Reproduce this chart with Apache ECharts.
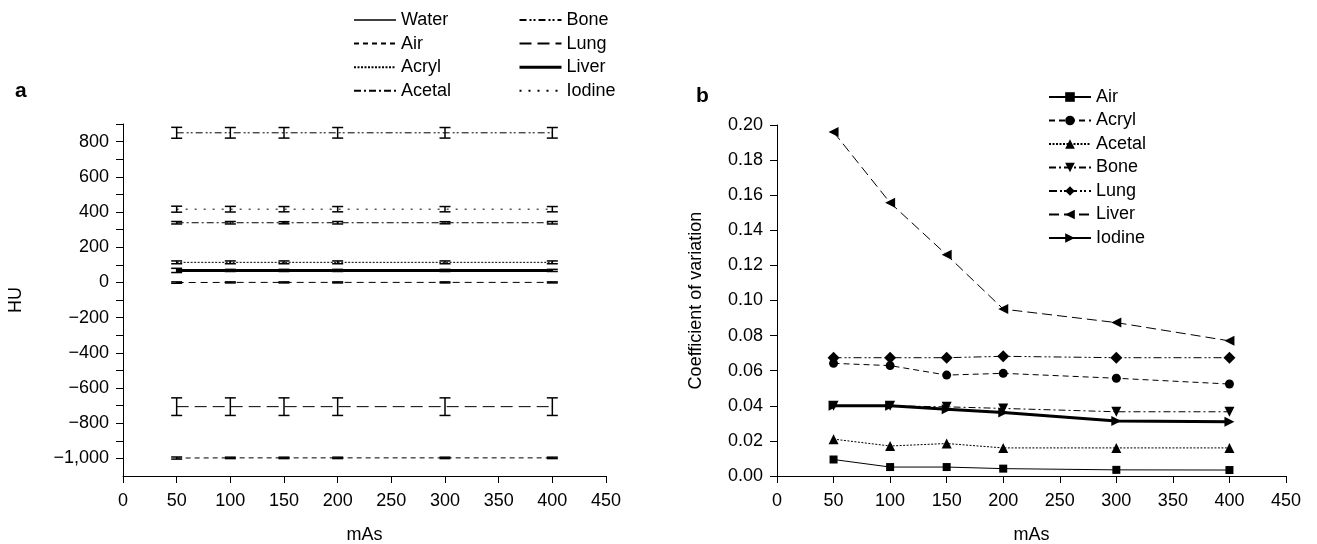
<!DOCTYPE html>
<html>
<head>
<meta charset="utf-8">
<script src="https://cdn.jsdelivr.net/npm/echarts@6/dist/echarts.min.js"></script>
<style>
  html, body { margin: 0; padding: 0; background: #fff; }
  #chart { width: 1317px; height: 544px; }
</style>
</head>
<body>
<div id="chart"></div>
<script>
// x values (mAs)
const mAs = [50, 100, 150, 200, 300, 400];

// panel a: HU mean and SD
const waterHU = [-1, 0, 0, 0, 0, 0];
const waterSD = [4, 3, 3, 3, 3, 3];
const airHU = [-998, -997, -997, -997, -997, -997];
const airSD = [6, 4, 4, 4, 4, 4];
const acrylHU = [114, 114, 114, 114, 114, 114];
const acrylSD = [8, 8, 8, 8, 8, 8];
const acetalHU = [339, 339, 339, 339, 339, 339];
const acetalSD = [7, 7, 6, 7, 6, 7];
const boneHU = [850, 850, 850, 850, 850, 850];
const boneSD = [31, 30, 30, 30, 30, 30];
const lungHU = [-706, -706, -706, -706, -706, -706];
const lungSD = [50, 50, 50, 50, 50, 50];
const liverHU = [68, 68, 68, 68, 68, 68];
const liverSD = [12, 6, 6, 6, 6, 6];
const iodineHU = [416, 416, 416, 416, 416, 416];
const iodineSD = [17, 16, 15, 15, 15, 15];

// panel b: coefficient of variation
const airCV = [0.0094, 0.0051, 0.0051, 0.0042, 0.0035, 0.0034];
const acrylCV = [0.0642, 0.0629, 0.0575, 0.0585, 0.0557, 0.0524];
const acetalCV = [0.0210, 0.0171, 0.0185, 0.0160, 0.0160, 0.0160];
const boneCV = [0.0400, 0.0400, 0.0394, 0.0385, 0.0366, 0.0366];
const lungCV = [0.0674, 0.0674, 0.0674, 0.0682, 0.0674, 0.0674];
const liverCV = [0.1960, 0.1557, 0.1260, 0.0951, 0.0874, 0.0770];
const iodineCV = [0.0400, 0.0400, 0.0380, 0.0362, 0.0313, 0.0309];

const FONT = '"Liberation Sans", Arial, sans-serif';
const INK = '#000';

const pairs = (vals) => mAs.map((x, i) => [x, vals[i]]);

// a 系列: 线 + 误差棒
const huSeries = [
  { name: 'Water', vals: waterHU, sd: waterSD, dash: [7, 5], width: 1 },
  { name: 'Air', vals: airHU, sd: airSD, dash: [5, 4], width: 1 },
  { name: 'Acryl', vals: acrylHU, sd: acrylSD, dash: [2, 1.5], width: 1 },
  { name: 'Acetal', vals: acetalHU, sd: acetalSD, dash: [7, 3, 2, 3], width: 1 },
  { name: 'Bone', vals: boneHU, sd: boneSD, dash: [7, 3, 2, 2, 2, 3], width: 1 },
  { name: 'Lung', vals: lungHU, sd: lungSD, dash: [12, 6], width: 1 },
  { name: 'Liver', vals: liverHU, sd: liverSD, dash: 'solid', width: 3 },
  { name: 'Iodine', vals: iodineHU, sd: iodineSD, dash: [2, 7], width: 1 }
];

const errData = [];
huSeries.forEach(s => {
  mAs.forEach((x, i) => errData.push([x, s.vals[i] - s.sd[i], s.vals[i] + s.sd[i]]));
});

const renderErr = (params, api) => {
  const x = api.value(0);
  const lo = api.coord([x, api.value(1)]);
  const hi = api.coord([x, api.value(2)]);
  const w = 5.5;
  const st = { stroke: INK, lineWidth: 1.5 };
  return {
    type: 'group',
    children: [
      { type: 'line', shape: { x1: lo[0], y1: lo[1], x2: hi[0], y2: hi[1] }, style: st },
      { type: 'line', shape: { x1: lo[0] - w, y1: lo[1], x2: lo[0] + w, y2: lo[1] }, style: st },
      { type: 'line', shape: { x1: hi[0] - w, y1: hi[1], x2: hi[0] + w, y2: hi[1] }, style: st }
    ]
  };
};

// b 系列
const cvSeries = [
  { name: 'Air', vals: airCV, dash: 'solid', width: 1, symbol: 'rect', size: 8, rot: 0 },
  { name: 'Acryl', vals: acrylCV, dash: [6, 4], width: 1, symbol: 'circle', size: 9, rot: 0 },
  { name: 'Acetal', vals: acetalCV, dash: [2, 1.5], width: 1, symbol: 'triangle', size: 10, rot: 0 },
  { name: 'Bone', vals: boneCV, dash: [7, 3, 2, 3], width: 1, symbol: 'triangle', size: 10, rot: 180 },
  { name: 'Lung', vals: lungCV, dash: [8, 3, 2, 2, 2, 3], width: 1, symbol: 'diamond', size: 12, rot: 0 },
  { name: 'Liver', vals: liverCV, dash: [10, 5], width: 1, symbol: 'triangle', size: 10, rot: 90 },
  { name: 'Iodine', vals: iodineCV, dash: 'solid', width: 3, symbol: 'triangle', size: 10, rot: -90 }
];

const axisCommon = {
  axisLine: { show: true, onZero: false, lineStyle: { color: INK, width: 1 } },
  axisTick: { show: true, inside: false, length: 7, lineStyle: { color: INK } },
  splitLine: { show: false },
  axisLabel: { color: INK, fontSize: 18, fontFamily: FONT, margin: 14 },
  nameTextStyle: { color: INK, fontSize: 18, fontFamily: FONT }
};
const xLabel = Object.assign({}, axisCommon.axisLabel, { margin: 16 });

const legendText = { color: INK, fontSize: 18, fontFamily: FONT, lineHeight: 20 };
// a 图例只画线，不画点
const noDot = { color: 'rgba(0,0,0,0)', borderWidth: 0 };
const aLegendItem = (n) => {
  const item = { name: n, itemStyle: noDot };
  if (n === 'Water') item.lineStyle = { color: INK, type: 'solid', width: 1.5, opacity: 1 };
  if (n === 'Liver') item.lineStyle = { color: INK, type: 'solid', width: 3 };
  return item;
};

const chart = echarts.init(document.getElementById('chart'));

chart.setOption({
  animation: false,
  backgroundColor: '#fff',
  title: [
    { text: 'a', left: 10, top: 76, textStyle: { fontSize: 21, fontWeight: 'bold', color: INK, fontFamily: FONT } },
    { text: 'b', left: 691, top: 81, textStyle: { fontSize: 21, fontWeight: 'bold', color: INK, fontFamily: FONT } }
  ],
  legend: [
    {
      data: ['Water', 'Air', 'Acryl', 'Acetal'].map(aLegendItem),
      orient: 'vertical', left: 348, top: 5, itemWidth: 42, itemHeight: 14, itemGap: 3.6,
      itemStyle: noDot, textStyle: legendText, selectedMode: false
    },
    {
      data: ['Bone', 'Lung', 'Liver', 'Iodine'].map(aLegendItem),
      orient: 'vertical', left: 513, top: 5, itemWidth: 42, itemHeight: 14, itemGap: 3.6,
      itemStyle: noDot, textStyle: legendText, selectedMode: false
    },
    {
      data: cvSeries.map(s => 'b_' + s.name),
      formatter: n => n.slice(2),
      orient: 'vertical', left: 1043, top: 82, itemWidth: 42, itemHeight: 12, itemGap: 3.5,
      textStyle: legendText, selectedMode: false
    }
  ],
  grid: [
    { left: 123, right: 711, top: 124, bottom: 68, outerBoundsMode: 'none', containLabel: false },
    { left: 777, right: 31, top: 125, bottom: 68, outerBoundsMode: 'none', containLabel: false }
  ],
  xAxis: [
    Object.assign({}, axisCommon, {
      gridIndex: 0, type: 'value', min: 0, max: 450, interval: 50,
      name: 'mAs', nameLocation: 'middle', nameGap: 50, axisLabel: xLabel
    }),
    Object.assign({}, axisCommon, {
      gridIndex: 1, type: 'value', min: 0, max: 450, interval: 50,
      name: 'mAs', nameLocation: 'middle', nameGap: 50, axisLabel: xLabel
    })
  ],
  yAxis: [
    Object.assign({}, axisCommon, {
      gridIndex: 0, type: 'value', min: -1100, max: 900, interval: 100,
      name: 'HU', nameLocation: 'middle', nameGap: 98,
      axisLabel: Object.assign({}, axisCommon.axisLabel, {
        showMinLabel: false,
        formatter: v => {
          if (v % 200 !== 0) return '';
          const s = Math.abs(v).toLocaleString('en-US');
          return v < 0 ? '\u2212' + s : s;
        }
      })
    }),
    Object.assign({}, axisCommon, {
      gridIndex: 1, type: 'value', min: 0, max: 0.2, interval: 0.02,
      name: 'Coefficient of variation', nameLocation: 'middle', nameGap: 72,
      axisLabel: Object.assign({}, axisCommon.axisLabel, { formatter: v => v.toFixed(2) })
    })
  ],
  series: [
    ...huSeries.map(s => ({
      name: s.name,
      type: 'line',
      xAxisIndex: 0, yAxisIndex: 0,
      data: pairs(s.vals),
      symbol: 'none',
      itemStyle: { color: INK },
      lineStyle: { color: INK, width: s.width, type: s.dash },
      z: 3
    })),
    {
      name: 'errbars',
      type: 'custom',
      xAxisIndex: 0, yAxisIndex: 0,
      data: errData,
      encode: { x: 0, y: [1, 2] },
      renderItem: renderErr,
      z: 4
    },
    ...cvSeries.map(s => ({
      name: 'b_' + s.name,
      type: 'line',
      xAxisIndex: 1, yAxisIndex: 1,
      data: pairs(s.vals),
      symbol: s.symbol,
      symbolSize: s.size,
      symbolRotate: s.rot,
      itemStyle: { color: INK },
      lineStyle: { color: INK, width: s.width, type: s.dash },
      z: 3
    }))
  ]
});
</script>
</body>
</html>
